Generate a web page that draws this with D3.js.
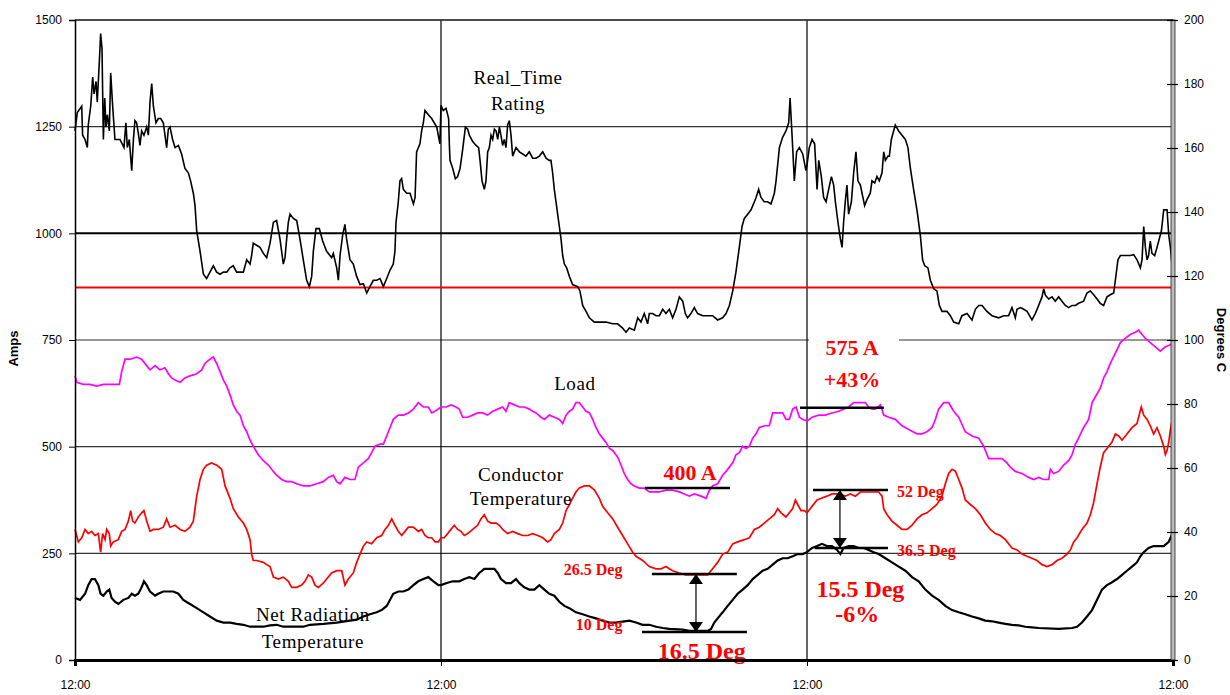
<!DOCTYPE html>
<html>
<head>
<meta charset="utf-8">
<script src="https://cdn.jsdelivr.net/npm/d3@7/dist/d3.min.js"></script>
<style>
  body { margin: 0; background: #fff; }
  svg { display: block; }
  .axis text { font-family: "Liberation Sans", Arial, sans-serif; font-size: 12px; fill: #000; }
  .axis line { stroke: #000; }
  .serif { font-family: "Liberation Serif", "Times New Roman", serif; }
</style>
</head>
<body>
<div id="chart"></div>
<script>
// hours since first 12:00 -> value (amps or degrees C)

const ratingData = [
  [0,1240],[0.15,1283],[0.44,1298],[0.5,1230],[0.66,1220],[0.81,1201],[0.87,1254],[1.03,1298],[1.16,1366],[1.25,1327],
  [1.38,1356],[1.46,1308],[1.6,1405],[1.68,1468],[1.77,1434],[1.86,1220],[1.95,1317],[2.03,1249],[2.12,1278],[2.25,1240],
  [2.34,1376],[2.47,1298],[2.62,1220],[2.95,1220],[3.21,1201],[3.34,1259],[3.43,1201],[3.56,1220],[3.72,1147],[3.83,1220],
  [3.93,1264],[4.04,1259],[4.15,1235],[4.26,1206],[4.37,1240],[4.52,1230],[4.7,1249],[4.81,1230],[4.92,1308],[5.03,1351],
  [5.14,1298],[5.31,1259],[5.46,1269],[5.62,1269],[5.79,1259],[6.01,1201],[6.12,1244],[6.23,1249],[6.4,1220],[6.56,1201],
  [6.78,1206],[6.99,1186],[7.21,1152],[7.43,1142],[7.58,1123],[7.76,1094],[7.87,1065],[7.98,1006],[8.2,958],[8.42,904],
  [8.63,894],[8.85,909],[9.07,924],[9.29,909],[9.51,904],[9.73,909],[9.95,909],[10.16,919],[10.38,924],[10.6,909],
  [11.04,909],[11.26,938],[11.48,928],[11.58,948],[11.69,977],[11.91,972],[12.13,967],[12.35,953],[12.57,943],[12.79,977],
  [13.01,1026],[13.22,1030],[13.44,987],[13.66,928],[13.77,943],[13.88,987],[13.99,1026],[14.1,1045],[14.32,1035],[14.54,1030],
  [14.75,987],[14.97,938],[15.19,890],[15.37,875],[15.52,899],[15.63,958],[15.8,1011],[16.02,1011],[16.24,982],[16.5,958],
  [16.83,943],[16.94,953],[17.16,919],[17.27,890],[17.38,948],[17.55,996],[17.7,1021],[17.81,987],[18.03,938],[18.25,928],
  [18.47,899],[18.69,880],[18.91,882],[19.13,860],[19.34,875],[19.56,890],[19.78,890],[20.0,894],[20.22,875],[20.44,894],
  [20.66,914],[20.87,928],[20.98,958],[21.05,1026],[21.2,1074],[21.31,1123],[21.42,1128],[21.53,1103],[21.75,1094],[21.97,1094],
  [22.19,1069],[22.3,1084],[22.4,1191],[22.62,1210],[22.73,1240],[22.84,1259],[22.95,1288],[23.17,1278],[23.39,1269],[23.72,1249],
  [23.93,1210],[24.0,1300],[24.15,1288],[24.33,1293],[24.5,1269],[24.55,1206],[24.59,1171],[24.77,1152],[24.94,1128],[25.09,1133],
  [25.25,1152],[25.42,1196],[25.6,1249],[25.75,1244],[25.86,1230],[26.08,1215],[26.3,1206],[26.47,1201],[26.56,1171],[26.69,1123],
  [26.84,1103],[26.95,1123],[27.06,1191],[27.17,1201],[27.28,1230],[27.39,1220],[27.5,1244],[27.61,1240],[27.72,1220],[27.83,1249],
  [27.93,1230],[28.04,1206],[28.15,1220],[28.26,1201],[28.37,1254],[28.48,1264],[28.59,1230],[28.7,1181],[28.92,1201],[29.14,1191],
  [29.36,1186],[29.57,1181],[29.79,1191],[30.01,1176],[30.23,1176],[30.45,1181],[30.67,1191],[30.89,1176],[31.1,1171],[31.21,1171],
  [31.32,1142],[31.43,1103],[31.54,1074],[31.65,1045],[31.76,1016],[31.87,987],[31.98,948],[32.09,928],[32.24,919],[32.42,899],
  [32.63,880],[32.96,875],[33.11,865],[33.29,831],[33.51,817],[33.73,802],[34.05,792],[34.38,792],[34.82,792],[35.26,788],
  [35.58,788],[35.91,778],[36.13,768],[36.35,778],[36.68,773],[36.9,802],[37.11,792],[37.33,812],[37.55,788],[37.66,812],
  [37.88,812],[38.1,807],[38.32,807],[38.54,822],[38.75,812],[38.97,822],[39.19,802],[39.41,822],[39.63,851],[39.85,841],
  [40.02,812],[40.17,802],[40.39,812],[40.61,826],[40.83,812],[41.16,807],[41.49,807],[41.81,807],[42.14,797],[42.47,802],
  [42.69,812],[42.91,831],[43.13,865],[43.34,909],[43.56,967],[43.74,1016],[43.89,1035],[44.11,1045],[44.33,1055],[44.55,1074],
  [44.66,1084],[44.83,1103],[44.98,1084],[45.2,1074],[45.42,1074],[45.64,1069],[45.86,1094],[45.97,1123],[46.19,1201],[46.4,1225],
  [46.62,1240],[46.8,1259],[46.89,1317],[47.02,1230],[47.17,1123],[47.32,1191],[47.5,1201],[47.72,1186],[47.93,1147],[48.0,1160],
  [48.15,1201],[48.33,1220],[48.5,1210],[48.66,1103],[48.77,1171],[48.94,1133],[49.09,1084],[49.25,1074],[49.42,1103],[49.6,1133],
  [49.75,1113],[49.86,1074],[50.03,1026],[50.19,987],[50.3,967],[50.4,1026],[50.51,1074],[50.62,1113],[50.73,1045],[50.91,1074],
  [51.06,1142],[51.21,1191],[51.34,1123],[51.5,1113],[51.61,1094],[51.78,1065],[51.93,1079],[52.15,1094],[52.26,1123],[52.44,1118],
  [52.59,1133],[52.74,1123],[52.92,1142],[53.03,1191],[53.14,1171],[53.31,1181],[53.4,1181],[53.53,1220],[53.68,1240],[53.79,1254],
  [54.01,1240],[54.23,1230],[54.45,1220],[54.62,1201],[54.78,1152],[54.99,1103],[55.21,1055],[55.43,996],[55.58,938],[55.72,924],
  [55.93,919],[56.09,890],[56.31,870],[56.52,865],[56.68,831],[56.85,817],[57.18,817],[57.4,807],[57.62,792],[57.95,788],
  [58.16,807],[58.49,812],[58.82,797],[59.04,822],[59.26,831],[59.48,831],[59.8,817],[60.13,807],[60.57,802],[60.9,807],
  [61.22,807],[61.44,826],[61.66,802],[61.77,822],[61.99,826],[62.21,822],[62.43,817],[62.75,797],[62.97,812],[63.19,831],
  [63.41,851],[63.52,870],[63.63,855],[63.85,846],[64.07,851],[64.28,841],[64.5,851],[64.72,841],[64.94,831],[65.16,826],
  [65.38,831],[65.6,831],[65.81,836],[66.14,841],[66.36,860],[66.58,865],[66.8,856],[67.02,846],[67.23,836],[67.45,831],
  [67.67,851],[67.89,856],[68.11,860],[68.22,890],[68.39,938],[68.55,948],[68.87,948],[69.2,948],[69.42,950],[69.64,938],
  [69.86,919],[69.97,938],[70.08,1016],[70.19,967],[70.3,938],[70.4,948],[70.51,982],[70.62,953],[70.8,948],[70.95,967],
  [71.1,987],[71.24,1006],[71.39,1055],[71.61,1055],[71.72,996],[71.83,967],[71.93,928],[72.0,948]
];

const loadData = [
  [0,666],[0.11,651],[0.55,646],[0.98,646],[1.42,642],[1.86,646],[2.3,646],[2.91,646],[3.06,676],[3.28,705],
  [3.61,705],[4.04,710],[4.37,705],[4.7,690],[4.92,680],[5.25,690],[5.57,680],[5.9,685],[6.12,671],[6.34,661],
  [6.56,656],[6.89,651],[7.21,661],[7.54,666],[7.98,671],[8.31,680],[8.52,695],[8.85,705],[9.07,710],[9.29,695],
  [9.51,676],[9.73,656],[9.95,642],[10.16,622],[10.38,598],[10.6,583],[10.82,574],[11.04,549],[11.26,535],[11.48,515],
  [11.69,501],[12.02,481],[12.35,467],[12.68,457],[13.01,442],[13.22,433],[13.55,423],[13.88,418],[14.21,418],[14.54,413],
  [14.97,408],[15.41,408],[15.85,413],[16.28,418],[16.61,428],[16.94,433],[17.16,418],[17.38,413],[17.7,428],[18.03,423],
  [18.36,423],[18.58,452],[18.91,462],[19.23,472],[19.45,486],[19.67,501],[20.0,506],[20.22,506],[20.55,535],[20.87,564],
  [21.2,574],[21.53,574],[21.86,579],[22.19,588],[22.51,603],[22.84,593],[23.17,593],[23.39,579],[23.61,583],[24.0,593],
  [24.33,593],[24.66,598],[24.98,593],[25.2,588],[25.42,569],[25.75,569],[26.08,574],[26.4,579],[26.73,579],[27.06,574],
  [27.39,583],[27.72,588],[28.04,593],[28.26,583],[28.48,603],[28.81,598],[29.14,593],[29.46,593],[29.79,588],[30.01,583],
  [30.23,579],[30.56,569],[30.78,564],[31.1,574],[31.43,569],[31.76,564],[31.98,554],[32.2,574],[32.42,583],[32.63,588],
  [32.85,603],[33.07,603],[33.29,593],[33.51,583],[33.73,579],[33.95,564],[34.16,545],[34.38,530],[34.6,520],[34.82,510],
  [35.04,496],[35.26,491],[35.58,476],[35.8,457],[36.02,437],[36.24,423],[36.46,413],[36.68,408],[37.01,403],[37.33,403],
  [37.66,394],[37.99,394],[38.32,394],[38.75,398],[39.19,398],[39.63,394],[39.96,389],[40.28,384],[40.61,389],[41.05,384],
  [41.38,379],[41.6,398],[41.81,408],[42.14,413],[42.47,433],[42.69,442],[42.91,452],[43.13,462],[43.34,481],[43.56,486],
  [43.78,501],[44.0,496],[44.22,501],[44.44,520],[44.66,530],[44.87,545],[45.2,549],[45.53,549],[45.75,579],[46.08,579],
  [46.4,579],[46.62,564],[46.84,564],[47.06,588],[47.28,593],[47.5,569],[47.72,564],[48.0,560],[48.33,569],[48.77,574],
  [49.2,574],[49.64,579],[50.08,583],[50.4,588],[50.73,593],[51.06,603],[51.39,603],[51.61,603],[51.83,603],[52.04,593],
  [52.26,588],[52.48,588],[52.81,598],[53.03,574],[53.36,569],[53.79,564],[54.23,549],[54.67,540],[55.21,530],[55.54,530],
  [55.87,535],[56.2,545],[56.42,564],[56.63,588],[56.96,603],[57.29,603],[57.62,583],[57.95,569],[58.38,535],[58.82,525],
  [59.26,520],[59.58,501],[59.91,472],[60.24,472],[60.57,472],[60.79,472],[61.11,462],[61.33,452],[61.66,442],[62.1,437],
  [62.54,428],[62.86,423],[63.19,428],[63.52,423],[63.85,423],[63.96,447],[64.17,437],[64.5,442],[64.83,457],[65.16,467],
  [65.38,481],[65.6,506],[65.81,520],[66.14,545],[66.47,564],[66.69,603],[66.91,617],[67.23,637],[67.45,661],[67.67,676],
  [67.89,695],[68.22,719],[68.55,744],[68.87,754],[69.2,763],[69.53,768],[69.75,773],[69.97,763],[70.19,754],[70.51,744],
  [70.84,734],[71.17,724],[71.5,734],[71.83,739],[72.0,744]
];

const conductorData = [
  [0,40.8],[0.22,36.9],[0.44,38.2],[0.66,40.8],[0.87,39.5],[1.09,40.2],[1.31,38.9],[1.53,39.5],[1.68,33.7],[1.81,39.5],
  [1.97,37.6],[2.08,40.8],[2.25,39.5],[2.34,35.6],[2.51,36.9],[2.84,37.6],[3.06,40.2],[3.28,40.8],[3.5,43.4],[3.65,46.7],
  [3.78,43.4],[3.93,42.8],[4.15,44.7],[4.37,46.0],[4.52,46.7],[4.7,43.4],[4.92,40.2],[5.14,40.8],[5.46,40.8],[5.79,41.5],
  [6.01,44.1],[6.23,41.5],[6.56,42.1],[6.89,40.8],[7.21,40.2],[7.54,41.5],[7.76,43.4],[7.98,51.2],[8.2,56.4],[8.42,59.6],
  [8.63,60.9],[8.96,61.6],[9.29,60.9],[9.62,59.6],[9.84,54.4],[10.16,50.6],[10.38,47.3],[10.71,44.7],[11.04,42.8],[11.26,40.8],
  [11.48,37.6],[11.58,33.1],[11.69,31.1],[11.91,31.1],[12.35,30.5],[12.57,29.8],[12.79,29.2],[13.01,25.9],[13.33,25.3],[13.66,25.9],
  [13.99,24.6],[14.21,22.7],[14.54,22.7],[14.86,23.4],[15.08,24.6],[15.3,26.6],[15.52,25.9],[15.74,23.4],[15.96,22.7],[16.28,24.0],
  [16.5,25.3],[16.83,27.2],[17.16,27.9],[17.49,27.9],[17.7,23.4],[17.92,25.3],[18.25,27.2],[18.47,30.5],[18.69,33.1],[18.91,35.6],
  [19.13,36.9],[19.45,36.3],[19.78,38.2],[20.11,38.9],[20.33,40.8],[20.55,42.1],[20.77,44.1],[20.98,42.1],[21.2,40.2],[21.42,38.9],
  [21.64,40.2],[21.86,41.5],[22.19,41.5],[22.51,40.2],[22.73,40.8],[22.95,38.9],[23.17,38.2],[23.39,38.2],[23.61,36.9],[23.83,36.9],
  [24.0,38.2],[24.22,38.2],[24.55,40.2],[24.87,42.1],[25.09,40.8],[25.31,40.2],[25.53,38.9],[25.75,39.5],[26.08,40.8],[26.4,42.1],
  [26.62,44.1],[26.84,45.4],[27.06,43.4],[27.28,42.8],[27.61,42.8],[27.83,42.1],[28.04,40.8],[28.37,39.5],[28.7,40.2],[29.03,39.5],
  [29.36,38.9],[29.68,38.9],[30.01,39.5],[30.34,38.9],[30.67,38.2],[30.99,36.9],[31.21,37.6],[31.43,39.5],[31.76,40.8],[31.98,42.8],
  [32.2,46.7],[32.42,48.6],[32.63,50.6],[32.85,52.5],[33.07,53.8],[33.4,54.4],[33.73,54.4],[34.05,53.2],[34.38,50.6],[34.6,48.0],
  [34.93,46.0],[35.26,44.1],[35.58,41.5],[35.91,38.9],[36.24,36.3],[36.57,33.7],[36.79,32.4],[37.22,31.1],[37.66,29.2],[38.1,28.5],
  [38.43,28.5],[38.75,29.2],[38.97,28.5],[39.19,27.9],[39.63,27.2],[40.07,26.6],[40.5,26.6],[40.94,26.6],[41.49,26.6],[41.81,28.5],
  [42.14,30.5],[42.47,33.1],[42.8,33.7],[43.13,36.3],[43.45,36.9],[43.89,37.6],[44.22,38.2],[44.55,40.8],[44.87,41.5],[45.2,42.8],
  [45.53,44.1],[45.86,45.4],[46.08,47.3],[46.3,46.0],[46.62,44.7],[46.84,46.0],[47.06,47.3],[47.24,50.0],[47.39,48.6],[47.61,46.7],
  [47.83,46.7],[48.0,46.0],[48.33,48.0],[48.66,50.0],[48.98,50.6],[49.31,51.2],[49.64,51.9],[50.08,51.9],[50.51,51.2],[50.84,51.9],
  [51.17,51.2],[51.5,52.5],[51.83,52.5],[52.26,52.5],[52.7,52.5],[52.92,51.2],[53.03,47.3],[53.25,45.4],[53.57,43.4],[53.9,42.1],
  [54.23,40.8],[54.56,40.8],[54.89,42.1],[55.21,44.1],[55.54,45.4],[55.87,46.0],[56.2,47.3],[56.52,48.6],[56.85,51.2],[57.07,55.1],
  [57.29,58.3],[57.51,59.6],[57.73,59.0],[57.95,56.4],[58.16,53.8],[58.38,50.0],[58.71,48.6],[59.04,47.3],[59.37,45.4],[59.69,42.8],
  [60.02,40.8],[60.35,39.5],[60.68,38.9],[61.01,37.6],[61.22,36.3],[61.44,35.0],[61.77,34.4],[62.1,33.1],[62.43,32.4],[62.75,31.8],
  [63.08,31.1],[63.41,29.8],[63.74,29.2],[64.07,29.8],[64.39,31.1],[64.72,31.8],[65.05,33.1],[65.27,34.4],[65.49,36.9],[65.71,38.2],
  [66.03,40.8],[66.36,42.8],[66.58,45.4],[66.8,49.3],[67.02,55.1],[67.23,60.3],[67.45,64.8],[67.67,66.1],[68.0,68.1],[68.22,70.6],
  [68.44,70.0],[68.66,68.7],[68.98,70.6],[69.31,72.6],[69.64,73.9],[69.92,79.1],[70.08,76.5],[70.3,75.2],[70.51,73.2],[70.73,70.6],
  [70.95,72.6],[71.17,70.0],[71.39,66.8],[71.5,64.2],[71.61,65.5],[71.72,68.1],[71.83,72.0],[71.93,74.6],[72.0,73.9]
];

const netRadData = [
  [0,19.4],[0.33,18.8],[0.66,20.7],[0.87,23.4],[1.09,25.3],[1.31,25.3],[1.53,23.4],[1.68,20.7],[1.86,20.1],[2.08,21.4],
  [2.25,22.0],[2.4,19.4],[2.62,18.2],[2.84,17.5],[3.17,18.8],[3.5,19.4],[3.72,20.7],[3.93,20.1],[4.15,20.7],[4.37,22.7],
  [4.52,24.6],[4.7,23.4],[4.92,21.4],[5.25,20.1],[5.46,20.7],[5.79,21.4],[6.12,21.4],[6.45,21.4],[6.78,20.7],[7.1,18.8],
  [7.54,17.5],[7.98,16.2],[8.42,14.9],[8.85,13.6],[9.29,12.3],[9.73,11.7],[10.16,11.7],[10.6,11.3],[11.04,11.0],[11.48,10.4],
  [12.35,10.4],[12.79,10.8],[13.22,11.0],[13.66,10.4],[14.97,10.4],[15.41,11.0],[16.28,11.3],[17.16,11.7],[18.03,12.3],[18.47,12.6],
  [18.91,13.6],[19.34,14.3],[19.78,14.9],[20.11,15.6],[20.44,16.9],[20.66,18.8],[20.87,20.7],[21.2,21.4],[21.53,21.4],[21.86,22.0],
  [22.19,23.4],[22.51,24.6],[22.84,25.3],[23.17,25.9],[23.5,24.6],[23.83,23.4],[24.0,23.4],[24.33,24.0],[24.77,24.6],[25.2,24.6],
  [25.53,25.3],[25.86,25.9],[26.19,25.3],[26.51,27.2],[26.84,28.5],[27.17,28.5],[27.5,28.5],[27.72,27.2],[27.93,25.3],[28.26,24.0],
  [28.59,24.0],[28.92,25.3],[29.14,24.0],[29.46,22.7],[29.79,22.0],[30.12,22.0],[30.45,23.4],[30.78,22.0],[31.1,20.7],[31.43,20.1],
  [31.76,18.2],[32.09,16.9],[32.42,16.2],[32.85,14.9],[33.29,14.3],[33.73,13.6],[34.16,13.0],[34.6,12.3],[35.04,11.7],[35.48,11.7],
  [35.91,12.0],[36.35,12.3],[36.79,11.7],[37.22,11.0],[37.66,11.0],[38.1,10.4],[38.54,10.0],[38.97,9.7],[39.85,9.5],[40.28,9.1],
  [41.49,9.1],[41.71,9.7],[41.92,11.7],[42.14,13.0],[42.47,14.9],[42.8,16.9],[43.13,18.8],[43.45,20.7],[43.78,22.0],[44.11,23.4],
  [44.44,25.3],[44.77,26.6],[45.09,27.9],[45.42,28.5],[45.75,29.8],[46.08,31.1],[46.4,31.8],[46.73,31.8],[47.06,32.4],[47.39,33.1],
  [47.72,33.1],[48.0,33.7],[48.33,35.0],[48.66,35.6],[48.98,36.3],[49.31,35.6],[49.64,35.6],[49.97,34.4],[50.19,33.1],[50.4,35.0],
  [50.73,35.6],[51.06,35.6],[51.39,35.0],[51.72,35.0],[52.04,34.4],[52.37,33.7],[52.7,33.1],[53.14,31.8],[53.57,30.5],[54.01,29.2],
  [54.45,27.9],[54.89,25.9],[55.32,24.6],[55.76,22.0],[56.2,20.1],[56.63,18.8],[57.07,16.9],[57.51,15.6],[57.95,14.9],[58.38,14.3],
  [58.82,13.6],[59.26,13.0],[59.69,12.3],[60.13,12.1],[60.57,11.7],[61.01,11.3],[61.44,11.0],[61.88,10.8],[62.32,10.4],[62.75,10.2],
  [63.19,10.0],[64.5,9.7],[65.38,10.0],[65.71,10.4],[66.03,11.7],[66.36,13.6],[66.69,15.6],[67.02,18.8],[67.34,22.0],[67.67,23.4],
  [68.0,24.3],[68.33,25.3],[68.66,26.6],[68.98,27.9],[69.31,29.2],[69.64,30.5],[69.86,32.4],[70.08,33.7],[70.4,35.0],[70.73,35.6],
  [71.06,35.6],[71.39,35.6],[71.72,36.9],[71.9,38.9],[72.0,39.5]
];

// axes
const ampTicks = [0, 250, 500, 750, 1000, 1250, 1500];
const degTicks = [0, 20, 40, 60, 80, 100, 120, 140, 160, 180, 200];
const hourTicks = [0, 24, 48, 72];
const hourLabels = ["12:00", "12:00", "12:00", "12:00"];
const limitAmps = 873;   // red limit line

// annotation bars: [fromHour, toHour, value]
const ampBars = [[37.37, 42.95, 403], [47.54, 53.04, 591]];
const degBars = [[37.83, 43.4, 26.9], [37.18, 44.06, 8.75], [48.39, 53.31, 53.1], [48.5, 53.31, 35.0]];
// arrows: [hour, topDeg, bottomDeg]
const degArrows = [[40.72, 26.9, 8.75], [50.16, 53.1, 35.0]];

// red labels: [text, hour, value, axis, size, anchor]
const redLabels = [
  ["400 A", 40.33, 422, "amp", 22, "middle"],
  ["575 A", 50.95, 715, "amp", 22, "middle"],
  ["+43%", 50.95, 640, "amp", 22, "middle"],
  ["26.5 Deg", 35.9, 26.5, "deg", 16, "end"],
  ["10 Deg", 35.9, 9.4, "deg", 16, "end"],
  ["16.5 Deg", 41.1, 0.2, "deg", 24, "middle"],
  ["52 Deg", 53.9, 50.9, "deg", 16, "start"],
  ["36.5 Deg", 53.9, 32.4, "deg", 16, "start"],
  ["15.5 Deg", 51.5, 19.7, "deg", 24, "middle"],
  ["-6%", 51.3, 11.9, "deg", 24, "middle"]
];

// black series names: [text, hour, amps]
const seriesLabels = [
  ["Real_Time", 29.05, 1351],
  ["Rating", 29.05, 1289],
  ["Load", 32.78, 633],
  ["Conductor", 29.24, 419],
  ["Temperature", 29.24, 363],
  ["Net Radiation", 15.6, 91],
  ["Temperature", 15.6, 28]
];

class RatingChart {
    constructor(element) {
        this.element = element;
        this.initVis();
    }

    initVis() {
        const margin = { top: 20, right: 57, bottom: 35, left: 75 };
        this.width = 1230 - margin.left - margin.right;
        this.height = 695 - margin.top - margin.bottom;

        this.svg = d3.select(this.element)
            .append("svg")
            .attr("width", 1230)
            .attr("height", 695)
            .append("g")
            .attr("transform", `translate(${margin.left},${margin.top})`);

        // scales
        this.x = d3.scaleLinear().domain([0, 72]).range([0, this.width]);
        this.yAmp = d3.scaleLinear().domain([0, 1500]).range([this.height, 0]);
        this.yDeg = d3.scaleLinear().domain([0, 200]).range([this.height, 0]);

        this.updateVis();
    }

    updateVis() {
        let vis = this;
        const svg = vis.svg;

        // horizontal grid
        svg.selectAll(".hgrid")
            .data(ampTicks.filter(d => d > 0))
            .enter().append("line")
            .attr("class", "hgrid")
            .attr("x1", 0).attr("x2", vis.width)
            .attr("y1", d => vis.yAmp(d)).attr("y2", d => vis.yAmp(d))
            .attr("stroke", d => d === 1000 ? "#000" : "#333")
            .attr("stroke-width", d => d === 1000 ? 2 : 1.2);

        // white patch behind the 575 A label (gap in the 750 line)
        svg.append("rect")
            .attr("x", vis.x(48) + 2).attr("y", vis.yAmp(750) - 6)
            .attr("width", vis.x(53.9) - vis.x(48)).attr("height", 12)
            .attr("fill", "#fff");

        // vertical grid
        svg.selectAll(".vgrid")
            .data(hourTicks.slice(1, 3))
            .enter().append("line")
            .attr("class", "vgrid")
            .attr("x1", d => vis.x(d)).attr("x2", d => vis.x(d))
            .attr("y1", 0).attr("y2", vis.height)
            .attr("stroke", "#000").attr("stroke-width", 1.2);

        // red limit line
        svg.append("line")
            .attr("x1", 0).attr("x2", vis.width)
            .attr("y1", vis.yAmp(limitAmps)).attr("y2", vis.yAmp(limitAmps))
            .attr("stroke", "#ff0000").attr("stroke-width", 2);

        // lines
        const ampLine = d3.line().x(d => vis.x(d[0])).y(d => vis.yAmp(d[1]));
        const degLine = d3.line().x(d => vis.x(d[0])).y(d => vis.yDeg(d[1]));

        svg.append("path").datum(netRadData)
            .attr("d", degLine).attr("fill", "none")
            .attr("stroke", "#000").attr("stroke-width", 2.2);
        svg.append("path").datum(conductorData)
            .attr("d", degLine).attr("fill", "none")
            .attr("stroke", "#ff0000").attr("stroke-width", 1.7);
        svg.append("path").datum(loadData)
            .attr("d", ampLine).attr("fill", "none")
            .attr("stroke", "#ff00ff").attr("stroke-width", 1.7);
        svg.append("path").datum(ratingData)
            .attr("d", ampLine).attr("fill", "none")
            .attr("stroke", "#000").attr("stroke-width", 1.6);

        // annotation bars
        svg.selectAll(".ampbar").data(ampBars).enter().append("line")
            .attr("x1", d => vis.x(d[0])).attr("x2", d => vis.x(d[1]))
            .attr("y1", d => vis.yAmp(d[2])).attr("y2", d => vis.yAmp(d[2]))
            .attr("stroke", "#000").attr("stroke-width", 2.5);
        svg.selectAll(".degbar").data(degBars).enter().append("line")
            .attr("x1", d => vis.x(d[0])).attr("x2", d => vis.x(d[1]))
            .attr("y1", d => vis.yDeg(d[2])).attr("y2", d => vis.yDeg(d[2]))
            .attr("stroke", "#000").attr("stroke-width", 2.5);

        // arrow heads
        const defs = svg.append("defs");
        defs.append("marker").attr("id", "head")
            .attr("viewBox", "0 0 10 14").attr("refX", 10).attr("refY", 7)
            .attr("markerWidth", 12).attr("markerHeight", 14)
            .attr("markerUnits", "userSpaceOnUse")
            .attr("orient", "auto-start-reverse")
            .append("path").attr("d", "M0,0L10,7L0,14Z").attr("fill", "#000");

        svg.selectAll(".arrow").data(degArrows).enter().append("line")
            .attr("x1", d => vis.x(d[0])).attr("x2", d => vis.x(d[0]))
            .attr("y1", d => vis.yDeg(d[1])).attr("y2", d => vis.yDeg(d[2]))
            .attr("stroke", "#000").attr("stroke-width", 1.2)
            .attr("marker-start", "url(#head)").attr("marker-end", "url(#head)");

        // red annotation text
        svg.selectAll(".redlabel").data(redLabels).enter().append("text")
            .attr("class", "serif")
            .attr("x", d => vis.x(d[1]))
            .attr("y", d => d[3] === "amp" ? vis.yAmp(d[2]) : vis.yDeg(d[2]))
            .attr("text-anchor", d => d[5])
            .attr("font-size", d => d[4])
            .attr("font-weight", "bold")
            .attr("fill", "#ff0000")
            .text(d => d[0]);

        // series names
        svg.selectAll(".slabel").data(seriesLabels).enter().append("text")
            .attr("class", "serif")
            .attr("x", d => vis.x(d[1]))
            .attr("y", d => vis.yAmp(d[2]))
            .attr("text-anchor", "middle")
            .attr("font-size", 19)
            .attr("letter-spacing", 0.6)
            .attr("fill", "#000")
            .text(d => d[0]);

        // top border
        svg.append("line")
            .attr("x1", 0).attr("x2", vis.width).attr("y1", 0).attr("y2", 0)
            .attr("stroke", "#333").attr("stroke-width", 1.5);

        // left axis (no thousands comma, like the original)
        const leftAxis = svg.append("g").attr("class", "axis")
            .call(d3.axisLeft(vis.yAmp).tickValues(ampTicks)
                .tickFormat(d3.format("d")).tickSize(6).tickPadding(7));
        leftAxis.select(".domain").attr("stroke", "#000").attr("stroke-width", 1.5);

        // bottom axis
        const bottomAxis = svg.append("g").attr("class", "axis")
            .attr("transform", `translate(0,${vis.height})`)
            .call(d3.axisBottom(vis.x).tickValues(hourTicks)
                .tickFormat((d, i) => hourLabels[i]).tickSize(6).tickPadding(14));
        bottomAxis.select(".domain").attr("stroke", "#000").attr("stroke-width", 3);
        bottomAxis.selectAll("text").attr("font-size", 13);

        // right axis, drawn as a double grey rule
        svg.append("rect")
            .attr("x", vis.width - 2).attr("y", 0)
            .attr("width", 4).attr("height", vis.height)
            .attr("fill", "#bbb").attr("stroke", "#222").attr("stroke-width", 0.8);
        const rightAxis = svg.append("g").attr("class", "axis")
            .attr("transform", `translate(${vis.width},0)`)
            .call(d3.axisRight(vis.yDeg).tickValues(degTicks).tickSize(5).tickPadding(6));
        rightAxis.select(".domain").remove();
        rightAxis.selectAll(".tick line").attr("x1", -6).attr("stroke-width", 1.2);

        // axis titles
        svg.append("text")
            .attr("transform", `translate(-57,${vis.yAmp(730)}) rotate(-90)`)
            .attr("text-anchor", "middle")
            .style("font-family", "'Liberation Sans', Arial, sans-serif")
            .style("font-size", "13px").style("font-weight", "bold")
            .text("Amps");
        svg.append("text")
            .attr("transform", `translate(${vis.width + 44},${vis.yDeg(100)}) rotate(90)`)
            .attr("text-anchor", "middle")
            .style("font-family", "'Liberation Sans', Arial, sans-serif")
            .style("font-size", "13px").style("font-weight", "bold")
            .text("Degrees C");
    }
}

new RatingChart("#chart");
</script>
</body>
</html>
